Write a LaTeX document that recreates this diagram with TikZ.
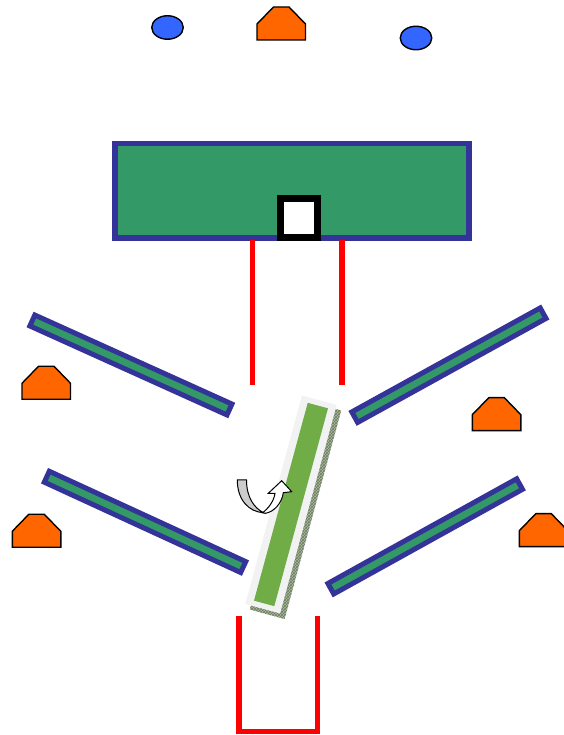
\documentclass[tikz,border=0pt]{standalone}
\usepackage{tikz}
\usetikzlibrary{shapes.geometric, patterns}
\definecolor{wallgreen}{RGB}{51,153,102}
\definecolor{wallblue}{RGB}{51,51,153}
\definecolor{conecol}{RGB}{255,102,0}
\definecolor{ballblue}{RGB}{51,102,255}
\definecolor{gategreen}{RGB}{112,173,71}
\definecolor{gatebg}{RGB}{242,242,242}
\definecolor{shadegreen}{RGB}{170,188,155}
\tikzstyle{wall}      = [rectangle, draw=wallblue, fill=wallgreen, line width=5pt, inner sep=0pt, outer sep=0pt, minimum height=12pt]
\tikzstyle{goal}      = [rectangle, draw=black, fill=white, line width=6.5pt, inner sep=0pt, outer sep=0pt]
\tikzstyle{ball}      = [ellipse, draw=black, fill=ballblue, line width=1.4pt, minimum width=31.5pt, minimum height=23.5pt, inner sep=0pt]
\tikzstyle{cone}      = [draw=black, fill=conecol, line width=1.4pt]
\tikzstyle{redline}   = [red, line width=5.3pt]
\tikzstyle{gateshade} = [rectangle, preaction={fill=shadegreen}, pattern=crosshatch, pattern color=shadegreen!65!black, inner sep=0pt, minimum width=36pt, minimum height=216pt, rotate=-15.2]
\tikzstyle{gatebox}   = [rectangle, fill=gatebg, inner sep=0pt, minimum width=36pt, minimum height=216pt, rotate=-15.2]
\tikzstyle{gatebar}   = [rectangle, fill=gategreen, inner sep=0pt, minimum width=21pt, minimum height=205pt, rotate=-15.2]
\tikzstyle{turnback}  = [draw=black, fill=gray!40, line width=1pt]
\tikzstyle{turnfront} = [draw=black, fill=white, line width=1pt]
\newcommand{\drawcone}[2]{\draw[cone] (#1,#2) -- ++(0,16) -- ++(16.5,17) -- ++(15.5,0) -- ++(16.5,-17) -- ++(0,-16) -- cycle;}

\begin{document}
\begin{tikzpicture}[x=1pt, y=1pt]

    \useasboundingbox (0,0) rectangle (563,735);

    % balls and cones
    \node (ballleft)  [ball] at (167.5,707.5) {};
    \node (ballright) [ball] at (416,697)     {};
    \drawcone{257}{695}
    \drawcone{22}{335.7}
    \drawcone{472.3}{304.3}
    \drawcone{12.3}{187.7}
    \drawcone{519.3}{188.3}

    % base with goal
    \node (base) [wall, line width=5.5pt, minimum width=354pt, minimum height=94.5pt] at (292,544.25) {};
    \node (goal) [goal, minimum width=36.6pt, minimum height=39.4pt] at (299,517) {};

    % walls
    \node (wallnw) [wall, minimum width=216.3pt, rotate=-24.3] at (130.9,370)   {};
    \node (wallne) [wall, minimum width=215.2pt, rotate=28.9]  at (448.9,369.8) {};
    \node (wallsw) [wall, minimum width=216.2pt, rotate=-24.7] at (145,213.1)   {};
    \node (wallse) [wall, minimum width=215.8pt, rotate=29]    at (425.2,198.6) {};

    % red lines
    \coordinate (pl1) at (252.7,495);
    \coordinate (pl2) at (252.7,350);
    \coordinate (pr1) at (342,495);
    \coordinate (pr2) at (342,350);
    \coordinate (ul)  at (239,119.3);
    \coordinate (ulb) at (239,3.3);
    \coordinate (urb) at (317.3,3.3);
    \coordinate (ur)  at (317.3,119.3);
    \draw [redline] (pl1) -- (pl2);
    \draw [redline] (pr1) -- (pr2);
    \draw [redline] (ul) -- (ulb) -- (urb) -- (ur);

    % gate
    \node (gateshadow) [gateshade] at (295.5,225) {};
    \node (gatebg)     [gatebox]   at (291,230.5) {};
    \node (gate)       [gatebar]   at (291,230.5) {};

    % turn arrow
    \draw [turnback] (237.3,255) -- (246.5,255)
        .. controls (246.5,238) and (254,227) .. (263.5,222.3)
        .. controls (249,223) and (237.3,235) .. (237.3,255) -- cycle;
    \draw [turnfront] (262.5,222.3)
        .. controls (268,226) and (274,234) .. (275,241.7)
        -- (268.3,241.7) -- (281.7,254.3) -- (291.7,243.3) -- (283.3,242.3)
        .. controls (282,232) and (274,223) .. (265.5,221.7) -- cycle;

\end{tikzpicture}
\end{document}
